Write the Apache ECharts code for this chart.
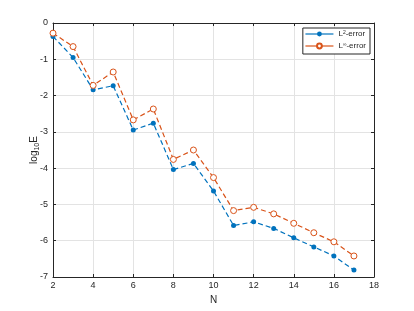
<!DOCTYPE html>
<html>
<head>
<meta charset="utf-8">
<script src="https://cdn.jsdelivr.net/npm/echarts@6/dist/echarts.min.js"></script>
<style>html,body{margin:0;padding:0;background:#fff;}#c{width:414px;height:311px;}</style>
</head>
<body>
<div id="c"></div>
<script>
const N = [2,3,4,5,6,7,8,9,10,11,12,13,14,15,16,17];
const l2Err = [-0.37,-0.95,-1.84,-1.73,-2.95,-2.76,-4.04,-3.87,-4.63,-5.58,-5.48,-5.66,-5.92,-6.17,-6.42,-6.81];
const linfErr = [-0.28,-0.65,-1.72,-1.35,-2.67,-2.37,-3.76,-3.50,-4.26,-5.17,-5.08,-5.26,-5.52,-5.78,-6.03,-6.42];
const seriesNames = ['L2', 'Linf'];
const xTicks = {min: 2, max: 18, interval: 2};
const yTicks = {min: -7, max: 0, interval: 1};

const axisColor = '#262626';
const font = 'Liberation Sans, Arial, sans-serif';
const chart = echarts.init(document.getElementById('c'));

function pair(xs, ys){ return xs.map((x,i)=>[x, ys[i]]); }

const baseX = {
  type: 'value', min: xTicks.min, max: xTicks.max, interval: xTicks.interval,
  axisLine: {show: true, onZero: false, lineStyle: {color: axisColor, width: 1}},
  axisTick: {show: true, inside: true, length: 3, lineStyle: {color: axisColor}},
};
const baseY = {
  type: 'value', min: yTicks.min, max: yTicks.max, interval: yTicks.interval,
  axisLine: {show: true, onZero: false, lineStyle: {color: axisColor, width: 1}},
  axisTick: {show: true, inside: true, length: 3, lineStyle: {color: axisColor}},
};

chart.setOption({
  animation: false,
  backgroundColor: '#fff',
  grid: {left: 53, right: 40, top: 23, bottom: 34},
  legend: {
    right: 44, top: 28, orient: 'vertical',
    backgroundColor: '#fff', borderColor: axisColor, borderWidth: 1, borderRadius: 0,
    padding: [2, 4, 2, 2], itemGap: 2, itemWidth: 28, itemHeight: 6,
    lineStyle: {type: 'solid', width: 1.2},
    textStyle: {fontFamily: font, fontSize: 8, color: axisColor,
      rich: {sup: {fontSize: 5, verticalAlign: 'top', lineHeight: 8, padding: [0,0,5,0], fontFamily: font, color: axisColor},
             t: {fontSize: 8, fontFamily: font, color: axisColor}}},
    formatter: function(name){ return name === 'L2' ? '{t|L}{sup|2}{t|-error}' : '{t|L}{sup|∞}{t|-error}'; },
    data: seriesNames
  },
  xAxis: [
    Object.assign({}, baseX, {
      position: 'bottom',
      name: 'N', nameLocation: 'middle', nameGap: 15,
      nameTextStyle: {fontFamily: font, fontSize: 10, color: axisColor},
      axisLabel: {fontFamily: font, fontSize: 9, color: axisColor, margin: 4},
      splitLine: {show: true, lineStyle: {color: '#e3e3e3', width: 1}}
    }),
    Object.assign({}, baseX, {position: 'top', axisLabel: {show: false}, splitLine: {show: false}})
  ],
  yAxis: [
    Object.assign({}, baseY, {
      position: 'left',
      name: 'log{sub|10}E', nameLocation: 'middle', nameGap: 12, nameRotate: 90,
      nameMoveOverlap: false,
      nameTextStyle: {fontFamily: font, fontSize: 10, color: axisColor,
        rich: {sub: {fontSize: 7, verticalAlign: 'bottom', padding: [6,0,0,0], fontFamily: font, color: axisColor}}},
      axisLabel: {fontFamily: font, fontSize: 9, color: axisColor, margin: 5},
      splitLine: {show: true, lineStyle: {color: '#e3e3e3', width: 1}}
    }),
    Object.assign({}, baseY, {position: 'right', axisLabel: {show: false}, splitLine: {show: false}})
  ],
  series: [
    {
      name: 'L2', type: 'line', data: pair(N, l2Err), xAxisIndex: 0, yAxisIndex: 0,
      color: '#0072BD',
      lineStyle: {type: [5, 3], width: 1.2, color: '#0072BD'},
      symbol: 'circle', symbolSize: 5,
      itemStyle: {color: '#0072BD'},
      z: 3
    },
    {
      name: 'Linf', type: 'line', data: pair(N, linfErr), xAxisIndex: 0, yAxisIndex: 0,
      color: '#D95319',
      lineStyle: {type: [5, 3], width: 1.2, color: '#D95319'},
      symbol: 'circle', symbolSize: 6,
      itemStyle: {color: '#ffffff', borderColor: '#D95319', borderWidth: 1},
      z: 4
    }
  ]
});
</script>
</body>
</html>
